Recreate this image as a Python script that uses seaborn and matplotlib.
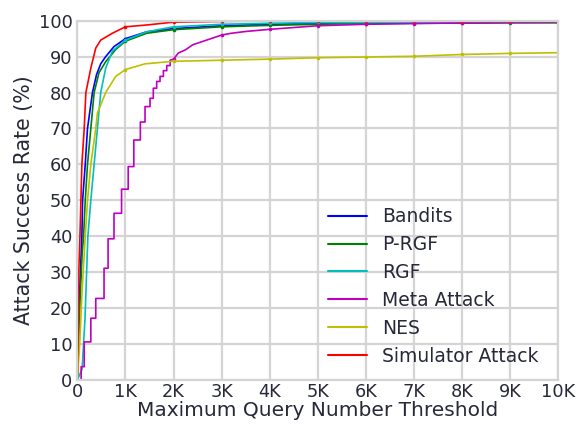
import matplotlib
matplotlib.use("Agg")
import matplotlib.pyplot as plt
import seaborn as sns

# ---------------- data ----------------
methods = ["Bandits", "P-RGF", "RGF", "Meta Attack", "NES", "Simulator Attack"]

bandits_x = [0, 50, 95, 110, 165, 212, 315, 400, 487, 590, 763, 1000, 1440, 2000, 3000, 4000, 5000, 6000, 7000, 8000, 9000, 10000]
bandits_y = [0, 25, 40, 50, 60, 70, 80, 85, 88, 90, 92.8, 95, 96.9, 97.8, 98.6, 99.0, 99.3, 99.4, 99.5, 99.5, 99.6, 99.6]

prgf_x = [0, 50, 100, 130, 165, 212, 281, 350, 450, 590, 800, 1000, 1440, 2000, 3000, 4000, 5000, 6000, 7000, 8000, 9000, 10000]
prgf_y = [0, 20, 35, 40, 50, 60, 70, 80, 85.5, 88.6, 92, 94.3, 96.5, 97.5, 98.3, 98.7, 99.0, 99.2, 99.3, 99.3, 99.4, 99.4]

rgf_x = [0, 100, 160, 220, 281, 350, 418, 487, 590, 728, 1000, 1440, 2000, 3000, 4000, 5000, 6000, 7000, 8000, 9000, 10000]
rgf_y = [0, 3, 17, 40, 50, 60, 70, 80, 86.8, 91.5, 94.6, 96.9, 98.3, 99.0, 99.3, 99.5, 99.5, 99.6, 99.6, 99.6, 99.7]

# Meta Attack rises in discrete jumps below ~2K queries (repeated x = vertical jump)
meta_x = [0, 80, 80, 144, 144, 281, 281, 384, 384, 556, 556, 640, 640, 763, 763, 920, 920, 1058, 1058,
          1175, 1175, 1311, 1311, 1408, 1408, 1512, 1512, 1580, 1580, 1650, 1650, 1720, 1720, 1790, 1790,
          1860, 1860, 1930, 1930, 2000, 2100, 2250, 2400, 2600, 2800, 3000, 3200, 3500, 4000, 4500, 5000,
          6000, 7000, 8000, 9000, 10000]
meta_y = [0, 0, 3.7, 3.7, 10.6, 10.6, 17.2, 17.2, 22.7, 22.7, 31.1, 31.1, 39.3, 39.3, 46.4, 46.4, 53.1, 53.1, 59.4,
          59.4, 66.8, 66.8, 71.8, 71.8, 76.1, 76.1, 78.4, 78.4, 81.2, 81.2, 83.1, 83.1, 84.5, 84.5, 86.1,
          86.1, 87.5, 87.5, 89.0, 89.3, 91.0, 91.9, 93.3, 94.2, 95.1, 96.0, 96.5, 97.0, 97.6, 98.1, 98.6,
          99.0, 99.2, 99.4, 99.5, 99.6]

nes_x = [0, 50, 100, 165, 212, 281, 384, 418, 590, 798, 1000, 1410, 2000, 3000, 4000, 5000, 6000, 7000, 8000, 9000, 10000]
nes_y = [0, 10, 25, 40, 50, 60, 70, 74.3, 80, 84.5, 86.4, 88, 88.7, 89.0, 89.3, 89.7, 89.9, 90.1, 90.6, 90.9, 91.1]

sim_x = [0, 30, 55, 75, 95, 144, 178, 281, 384, 487, 728, 1000, 1440, 2000, 3000, 4000, 5000, 6000, 7000, 8000, 9000, 10000]
sim_y = [0, 30, 40, 50, 60, 70, 80, 86.8, 92.4, 94.6, 96.5, 98.3, 98.8, 99.6, 99.8, 99.9, 99.9, 99.9, 99.9, 100, 100, 100]

x_ticks = [0, 1000, 2000, 3000, 4000, 5000, 6000, 7000, 8000, 9000, 10000]
x_tick_labels = ["0", "1K", "2K", "3K", "4K", "5K", "6K", "7K", "8K", "9K", "10K"]
y_ticks = [0, 10, 20, 30, 40, 50, 60, 70, 80, 90, 100]

series = [
    (bandits_x, bandits_y, "b"),
    (prgf_x, prgf_y, "g"),
    (rgf_x, rgf_y, "c"),
    (meta_x, meta_y, "m"),
    (nes_x, nes_y, "y"),
    (sim_x, sim_y, "r"),
]

# ---------------- plot ----------------
sns.set_style("white")
plt.rcParams["font.family"] = ["DejaVu Sans"]
text_col = "#27293a"

fig = plt.figure(figsize=(5.79, 4.26), dpi=100)
ax = fig.add_axes([77.3 / 579, 1 - 380 / 426, (558.3 - 77.3) / 579, (380 - 20.7) / 426])

for name, (xs, ys, col) in zip(methods, series):
    marks = [i for i, v in enumerate(xs) if v % 1000 == 0 and v > 0]
    sns.lineplot(x=xs, y=ys, ax=ax, color=col, linewidth=1.2, label=name,
                 marker="o", markersize=2.6, markevery=marks,
                 markeredgewidth=0, estimator=None, sort=False)

ax.set_xlim(0, 10000)
ax.set_ylim(0, 100)
ax.set_xticks(x_ticks)
ax.set_xticklabels(x_tick_labels)
ax.set_yticks(y_ticks)
ax.grid(True, color="#d4d4d4", linewidth=1.6)
ax.set_axisbelow(True)
for s in ax.spines.values():
    s.set_color("#d4d4d4")
    s.set_linewidth(1.6)
ax.tick_params(axis="both", length=0, labelsize=12.8, colors=text_col)
ax.tick_params(axis="y", pad=3.5)
ax.tick_params(axis="x", pad=2.5)
ax.set_xlabel("Maximum Query Number Threshold", fontsize=14.5, color=text_col, labelpad=0)
ax.set_ylabel("Attack Success Rate (%)", fontsize=14.8, color=text_col, labelpad=3)

leg = ax.legend(loc="upper left", bbox_to_anchor=(0.521, 0.481), frameon=False,
                fontsize=13.5, handlelength=2.1, handletextpad=0.8, labelspacing=0.475,
                borderpad=0, borderaxespad=0)
for t in leg.get_texts():
    t.set_color(text_col)
for h in leg.get_lines():
    h.set_marker("")
    h.set_linewidth(1.5)

fig.savefig("out.png", dpi=100)
